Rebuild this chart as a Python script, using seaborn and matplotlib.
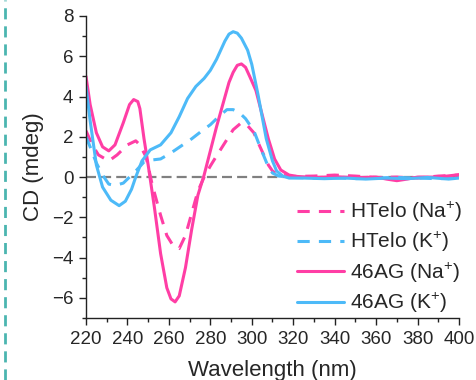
import numpy as np
import pandas as pd
import matplotlib
matplotlib.use('Agg')
import matplotlib.pyplot as plt
import seaborn as sns
from matplotlib.lines import Line2D

# wavelength / CD values
wl_ag_k = [220, 222, 225, 228, 232, 236, 239, 242, 244, 247, 251, 256, 261, 265, 269, 273, 277, 280, 283, 287,
           289, 291, 293, 295, 298, 300, 303, 305, 307, 310, 312, 315, 318, 325, 335, 345, 355, 365, 375, 385, 395, 400]
cd_ag_k = [4.5, 2.8, 0.6, -0.5, -1.15, -1.42, -1.2, -0.6, 0.0, 0.8, 1.35, 1.6, 2.2, 3.0, 3.9, 4.5, 4.9, 5.3, 5.85, 6.75,
           7.1, 7.22, 7.15, 6.9, 6.3, 5.6, 4.1, 3.0, 1.9, 0.8, 0.3, 0.05, -0.05, -0.05, -0.08, -0.05, -0.1, -0.05, -0.08, -0.02, -0.1, -0.05]

wl_ag_na = [220, 222, 225, 228, 231, 234, 238, 241, 243, 245, 246, 248, 250, 253, 256, 259, 261, 263, 265, 268, 271,
            274, 277, 280, 283, 286, 289, 291, 293, 295, 297, 299, 302, 305, 308, 311, 314, 318, 322, 330, 340,
            350, 360, 365, 370, 375, 380, 390, 400]
cd_ag_na = [5.0, 3.6, 2.2, 1.5, 1.3, 1.6, 2.7, 3.6, 3.85, 3.75, 3.4, 1.9, 0.6, -1.5, -3.8, -5.5, -6.05, -6.2, -5.9, -4.5, -2.6,
            -0.9, 0.1, 1.3, 2.5, 3.6, 4.7, 5.2, 5.55, 5.62, 5.45, 5.0, 4.3, 3.1, 1.9, 0.9, 0.35, 0.1, 0.03, -0.02, 0.02,
            -0.03, 0.0, -0.1, -0.18, -0.1, 0.0, 0.0, 0.12]

wl_ht_na = [220, 223, 226, 231, 235, 240, 244, 246, 249, 252, 256, 259, 262, 265, 268, 271, 274, 277, 280, 283,
            287, 291, 295, 298, 301, 304, 306, 308, 310, 313, 320, 330, 340, 350, 360, 370, 380, 390, 400]
cd_ht_na = [2.3, 1.6, 1.1, 0.8, 1.1, 1.6, 1.8, 1.6, 1.0, -0.4, -1.9, -2.9, -3.4, -3.55, -2.9, -1.8, -0.7, 0.0, 0.55, 1.05,
            1.7, 2.35, 2.7, 2.55, 2.2, 1.5, 1.05, 0.6, 0.3, 0.1, 0.03, 0.05, 0.1, 0.05, -0.02, 0.0, -0.05, 0.05, 0.1]

wl_ht_k = [220, 222, 225, 228, 231, 234, 238, 241, 244, 248, 252, 256, 261, 266, 271, 276, 280, 284, 288, 291,
           294, 297, 301, 304, 306, 308, 310, 313, 320, 330, 340, 350, 360, 370, 380, 390, 400]
cd_ht_k = [2.0, 1.5, 0.7, 0.1, -0.35, -0.42, -0.3, 0.0, 0.3, 0.75, 0.85, 0.9, 1.2, 1.55, 1.9, 2.3, 2.6, 3.0, 3.35, 3.35,
           3.2, 2.9, 2.3, 1.5, 1.0, 0.5, 0.2, 0.05, -0.02, -0.05, -0.03, -0.08, -0.05, -0.02, -0.05, -0.08, -0.05]

labels = ['HTelo (Na$^{+}$)', 'HTelo (K$^{+}$)', '46AG (Na$^{+}$)', '46AG (K$^{+}$)']
pink = '#FF3EA5'
blue = '#4DBAF8'

sns.set_style('ticks')
plt.rcParams['font.family'] = ['Liberation Sans', 'DejaVu Sans']
plt.rcParams['mathtext.default'] = 'regular'

fig = plt.figure(figsize=(4.77, 3.80), dpi=100)
ax = fig.add_axes([86 / 477, 62 / 380, 373 / 477, 302 / 380])

ax.axhline(0, color='#808080', lw=1.6, ls=(0, (4.5, 2.3)), zorder=1)

dash = (0, (4, 3))
sns.lineplot(x=wl_ht_na, y=cd_ht_na, ax=ax, color=pink, lw=2.2, ls=dash, label=labels[0])
sns.lineplot(x=wl_ht_k, y=cd_ht_k, ax=ax, color=blue, lw=2.2, ls=dash, label=labels[1])
sns.lineplot(x=wl_ag_na, y=cd_ag_na, ax=ax, color=pink, lw=2.2, label=labels[2])
sns.lineplot(x=wl_ag_k, y=cd_ag_k, ax=ax, color=blue, lw=2.2, label=labels[3])

ax.set_xlim(220, 400)
ax.set_ylim(-7, 8)
ax.set_xticks(range(220, 401, 20))
ax.set_xticks(range(230, 400, 20), minor=True)
ax.set_yticks(range(-6, 9, 2))
ax.set_yticks(range(-7, 8, 2), minor=True)
ax.tick_params(which='major', length=5, width=1, labelsize=13.5, direction='out', color='#222222', pad=4)
ax.tick_params(which='minor', length=3, width=1, direction='out', color='#222222')
for s in ['top', 'right']:
    ax.spines[s].set_visible(False)
for s in ['left', 'bottom']:
    ax.spines[s].set_linewidth(1)
    ax.spines[s].set_color('#222222')

ax.set_xlabel('Wavelength (nm)', fontsize=16, labelpad=9)
ax.set_ylabel('CD (mdeg)', fontsize=16, labelpad=6)

ax.legend(loc='upper left', bbox_to_anchor=(0.544, 0.419), borderaxespad=0, frameon=False, fontsize=15,
          handlelength=2.25, handletextpad=0.3, labelspacing=0.3)

# dashed teal border on the left edge
fig.add_artist(Line2D([5 / 477, 5 / 477], [0, 1], transform=fig.transFigure,
                      color='#4BB5B0', lw=2, ls=(0, (4, 2.5))))

fig.savefig('out.png', dpi=100)
